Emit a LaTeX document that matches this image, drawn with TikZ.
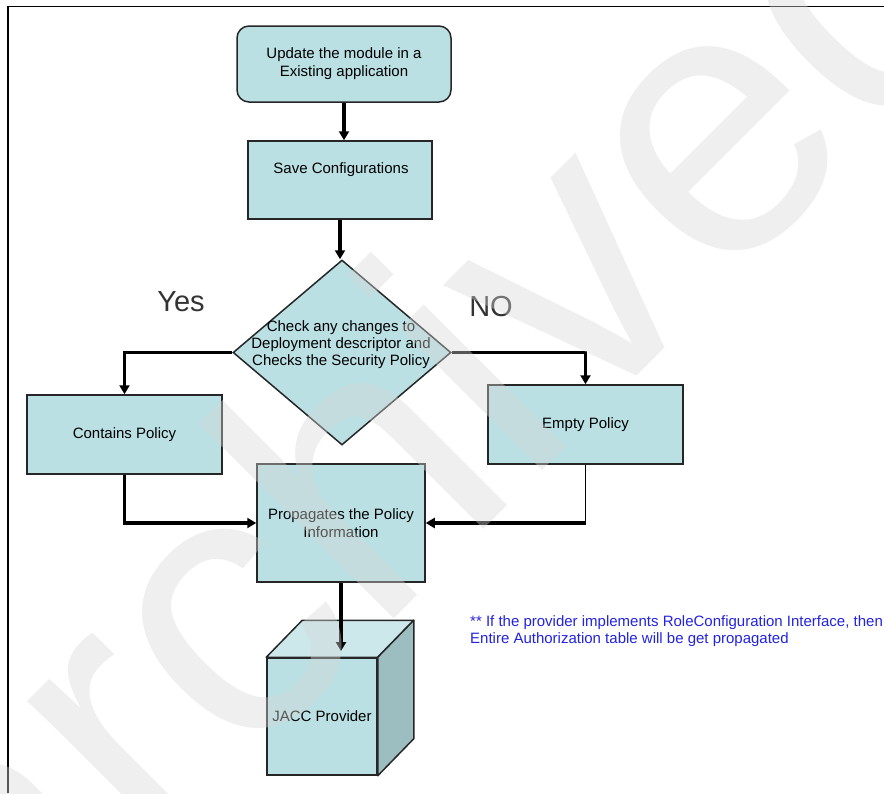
\documentclass[tikz,border=0pt]{standalone}
\usepackage{fontspec}
\setmainfont{Liberation Sans}
\usetikzlibrary{arrows.meta,shapes.geometric}
\definecolor{boxfill}{RGB}{186,224,228}
\definecolor{cubetop}{RGB}{204,232,235}
\definecolor{cubeside}{RGB}{157,190,193}
\definecolor{notecol}{RGB}{35,35,225}
\definecolor{wmcol}{RGB}{215,215,215}
\begin{document}
\begin{tikzpicture}[x=1pt,y=-1pt,
  box/.style={draw=black!85, line width=1.5pt, fill=boxfill, inner sep=0pt, align=center, font=\fontsize{15}{18}\selectfont},
  txt/.style={align=center, inner sep=0pt, font=\fontsize{15}{17}\selectfont},
  conn/.style={line width=3.2pt, -{Triangle[length=9pt,width=10pt]}},
  big/.style={inner sep=0pt, text=black!80, font=\fontsize{29}{34}\selectfont},
  ]
\useasboundingbox (0,0) rectangle (884,793);
\clip (0,0) rectangle (884,793);
\fill[white] (0,0) rectangle (884,793);
% frame
\coordinate (fbl) at (8,793);
\coordinate (ftl) at (8,6.5);
\coordinate (ftr) at (884,6.5);
\draw[line width=1.2pt] (fbl) -- (ftl) -- (ftr);

% nodes
\node[box, rounded corners=12pt, minimum width=214pt, minimum height=76pt] (upd) at (344,64) {Update the module in a\\Existing application};
\node[box, minimum width=184pt, minimum height=78pt] (save) at (340,180) {};
\node[txt] (savet) at (341,170) {Save Configurations};
\node[diamond, draw=black!85, line width=1.5pt, fill=boxfill, minimum width=218pt, minimum height=185pt, inner sep=0pt] (dia) at (342,352.5) {};
\node[txt] (diat) at (341,345) {Check any changes to\\Deployment descriptor and\\Checks the Security Policy};
\node[box, minimum width=195pt, minimum height=79pt] (cont) at (124.5,434.5) {Contains Policy};
\node[box, minimum width=195pt, minimum height=79pt] (empt) at (585.5,424.5) {Empty Policy};
\node[box, minimum width=168pt, minimum height=118pt] (prop) at (341,523) {Propagates the Policy\\Information};
\node[box, minimum width=110pt, minimum height=117pt] (jacc) at (322,716.5) {JACC Provider};
\fill[cubetop, draw=black!85, line width=1.5pt, line join=round] (jacc.north west) -- ++(36,-37) -- ([shift={(36,-37)}]jacc.north east) -- (jacc.north east) -- cycle;
\fill[cubeside, draw=black!85, line width=1.5pt, line join=round] (jacc.north east) -- ++(36,-37) -- ([shift={(36,-37)}]jacc.south east) -- (jacc.south east) -- cycle;

\node[big] (yes) at (181,302) {Yes};
\node[big] (no) at (491,307) {NO};
\node[anchor=west, align=left, inner sep=0pt, text=notecol, font=\fontsize{15}{17.5}\selectfont] (note) at (470,631) {** If the provider implements RoleConfiguration Interface, then\\Entire Authorization table will be get propagated};

% connectors
\draw[conn] (upd.south) -- (upd.south |- save.north);
\draw[conn] (save.south) -- (save.south |- dia.north);
\draw[conn] (dia.west) -| (cont.north);
\draw[conn] (dia.east) -| (empt.north);
\draw[conn] (cont.south) |- (prop.west);
\coordinate (ecorner) at (empt.south |- prop.east);
\draw[line width=1.6pt] (empt.south) -- (ecorner);
\draw[conn] (ecorner) -- (prop.east);
\coordinate (tipc) at (341,651);
\draw[conn] (prop.south) -- (tipc);

% watermark
\node[font=\fontsize{380}{380}\selectfont, text=wmcol, text opacity=0.4, rotate=45, anchor=base west, inner sep=0pt] (wm) at (2,1011) {archived};
\end{tikzpicture}
\end{document}
